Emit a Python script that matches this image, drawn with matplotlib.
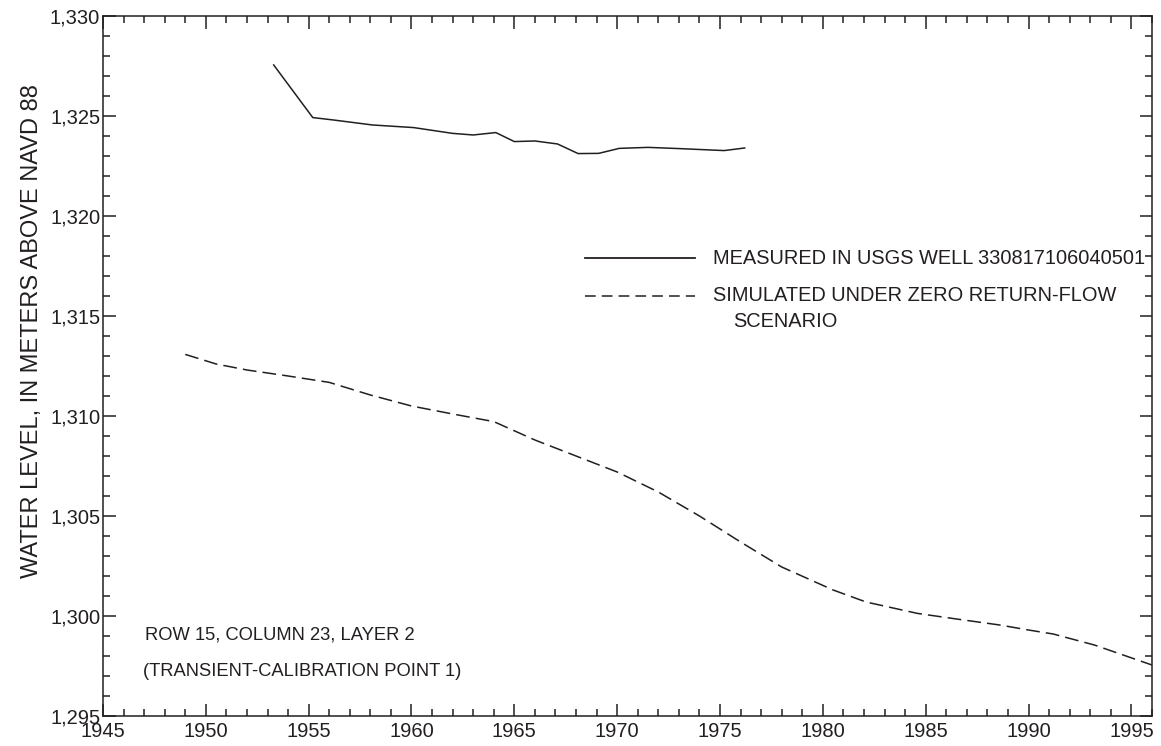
import matplotlib.pyplot as plt
import matplotlib as mpl
from matplotlib import ticker

mpl.rcParams["font.family"] = "sans-serif"
mpl.rcParams["font.sans-serif"] = ["Liberation Sans", "DejaVu Sans"]

# measured water level, USGS well 330817106040501
aar_maalt = [1953.3, 1955.2, 1956.2, 1958.1, 1960.1, 1962.0, 1963.0, 1964.1, 1965.0,
             1966.0, 1967.1, 1968.1, 1969.1, 1970.1, 1971.5, 1973.0, 1975.2, 1976.2]
nivaa_maalt = [1327.55, 1324.92, 1324.80, 1324.55, 1324.42, 1324.13, 1324.05, 1324.17, 1323.72,
               1323.75, 1323.60, 1323.12, 1323.13, 1323.38, 1323.43, 1323.37, 1323.27, 1323.40]

# simulated, zero return-flow scenario
aar_sim = [1949.0, 1950.5, 1952.0, 1954.0, 1956.0, 1958.0, 1960.0, 1962.0, 1964.0, 1966.0,
           1968.0, 1970.0, 1972.0, 1974.0, 1976.0, 1978.0, 1980.5, 1982.1, 1984.6, 1986.5,
           1988.6, 1990.0, 1991.2, 1993.2, 1996.0]
nivaa_sim = [1313.08, 1312.60, 1312.30, 1312.00, 1311.68, 1311.05, 1310.50, 1310.10, 1309.72, 1308.80,
             1308.00, 1307.20, 1306.20, 1305.00, 1303.70, 1302.45, 1301.30, 1300.70, 1300.13, 1299.85,
             1299.55, 1299.30, 1299.10, 1298.55, 1297.55]

farge = "#231f20"

fig = plt.figure(figsize=(11.61, 7.46), dpi=100)
ax = fig.add_axes([0.0887, 0.0402, 0.9035, 0.9384])

ax.plot(aar_maalt, nivaa_maalt, color=farge, lw=1.1)
ax.plot(aar_sim, nivaa_sim, color=farge, lw=1.1, dashes=(9, 4))

ax.set_xlim(1945, 1996)
ax.set_ylim(1295, 1330)
ax.xaxis.set_major_locator(ticker.MultipleLocator(5))
ax.xaxis.set_minor_locator(ticker.MultipleLocator(1))
ax.yaxis.set_major_locator(ticker.MultipleLocator(5))
ax.yaxis.set_minor_locator(ticker.MultipleLocator(1))
ax.yaxis.set_major_formatter(ticker.FuncFormatter(lambda v, p: f"{v:,.0f}"))

ax.tick_params(which="both", direction="in", top=True, right=True, color=farge,
               labelsize=14.5, labelcolor=farge, width=1.1)
ax.tick_params(which="major", length=9, pad=2)
ax.tick_params(which="minor", length=5)
ax.tick_params(axis="x", which="major", pad=4)
for s in ax.spines.values():
    s.set_linewidth(1.1)
    s.set_color(farge)

ax.set_ylabel("WATER LEVEL, IN METERS ABOVE NAVD 88", fontsize=17, color=farge)
ax.yaxis.set_label_coords(-0.057, 0.55)

# legend drawn by hand so the dashed key lines up with first text line
ax.plot([0.4595, 0.5643], [0.654, 0.654], transform=ax.transAxes, color=farge, lw=1.3)
ax.plot([0.4595, 0.5643], [0.600, 0.600], transform=ax.transAxes, color=farge, lw=1.1, dashes=(7, 4))
ax.text(0.5815, 0.654, "MEASURED IN USGS WELL 330817106040501", transform=ax.transAxes,
        fontsize=14.4, color=farge, va="center")
ax.text(0.5815, 0.600, "SIMULATED UNDER ZERO RETURN-FLOW", transform=ax.transAxes,
        fontsize=14.4, color=farge, va="center")
ax.text(0.6006, 0.564, "SCENARIO", transform=ax.transAxes,
        fontsize=14.4, color=farge, va="center")

ax.text(0.040, 0.1157, "ROW 15, COLUMN 23, LAYER 2", transform=ax.transAxes,
        fontsize=13.2, color=farge, va="center")
ax.text(0.038, 0.0629, "(TRANSIENT-CALIBRATION POINT 1)", transform=ax.transAxes,
        fontsize=13.2, color=farge, va="center")

plt.savefig("out.png", dpi=100)
